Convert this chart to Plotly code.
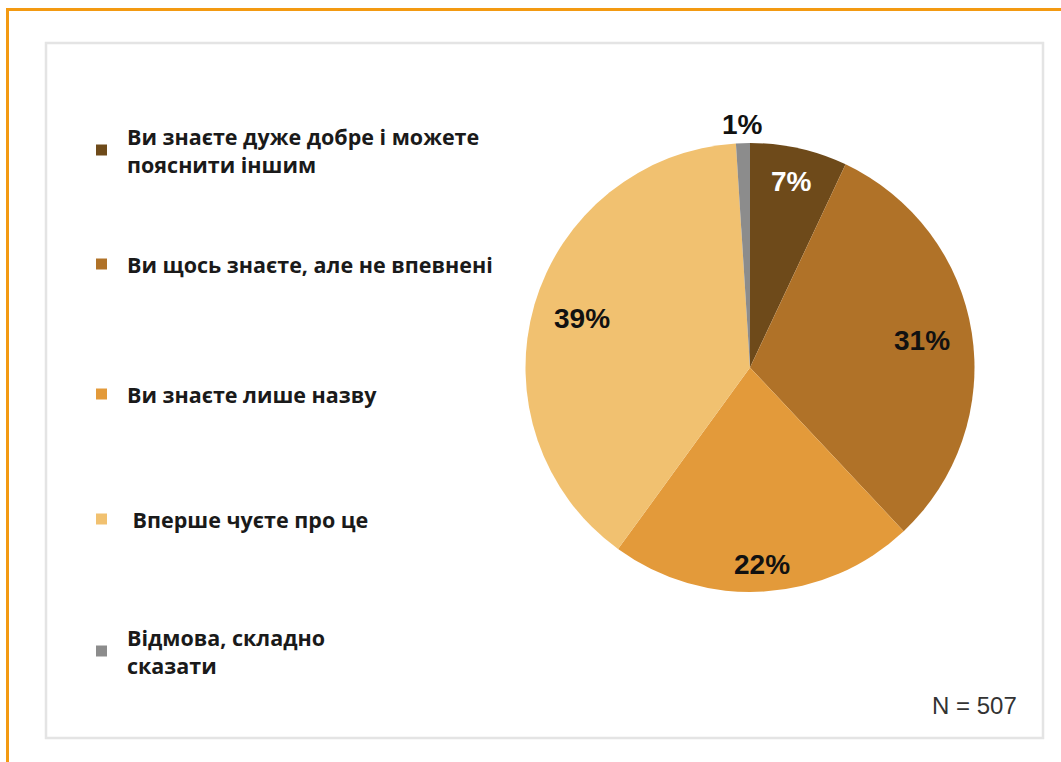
import math
import plotly.graph_objects as go

W, H = 1061, 762

labels = [
    "Ви знаєте дуже добре і можете<br>пояснити іншим",
    "Ви щось знаєте, але не впевнені",
    "Ви знаєте лише назву",
    "\u00a0Вперше чуєте про це",
    "Відмова, складно<br>сказати",
]
values = [7, 31, 22, 39, 1]
colors = ["#6e4a1a", "#b07228", "#e39a3a", "#f1c170", "#8c8c8c"]
text_colors = ["#ffffff", "#111111", "#111111", "#111111", "#111111"]
note = "N = 507"

# layout constants (positions only)
legend_y_px = [150, 264, 394, 519, 651]
label_radius = [0.85, 0.775, 0.88, 0.78, 1.085]


def px_x(x):
    return x / W


def px_y(y):
    return 1 - y / H


cx, cy, r = 750, 367.5, 224.5

fig = go.Figure()
fig.add_trace(go.Pie(
    labels=labels,
    values=values,
    sort=False,
    direction="clockwise",
    rotation=0,
    marker=dict(colors=colors, line=dict(width=0)),
    textinfo="none",
    domain=dict(x=[px_x(cx - r), px_x(cx + r)], y=[px_y(cy + r), px_y(cy - r)]),
    showlegend=False,
    hoverinfo="label+percent",
))

shapes = [
    dict(type="rect", xref="paper", yref="paper",
         x0=px_x(7.5), x1=px_x(W + 20), y0=px_y(H + 20), y1=px_y(9.5),
         line=dict(color="#f39a12", width=3), fillcolor="rgba(0,0,0,0)", layer="below"),
    dict(type="rect", xref="paper", yref="paper",
         x0=px_x(46), x1=px_x(1043), y0=px_y(738), y1=px_y(43),
         line=dict(color="#e4e4e4", width=2.5), fillcolor="#ffffff", layer="below"),
]

annotations = []

# percent labels placed from the slice mid-angles
total = float(sum(values))
cum = 0.0
for v, tc, rf in zip(values, text_colors, label_radius):
    mid = (cum + v / 2.0) / total * 2 * math.pi
    cum += v
    x = cx + rf * r * math.sin(mid)
    y = cy - rf * r * math.cos(mid)
    annotations.append(dict(
        text=f"{v}%", xref="paper", yref="paper", x=px_x(x), y=px_y(y),
        xanchor="center", yanchor="middle", showarrow=False,
        font=dict(family="Liberation Sans", size=28, color=tc, weight="bold"),
    ))

for lab, col, yp in zip(labels, colors, legend_y_px):
    shapes.append(dict(type="rect", xref="paper", yref="paper",
                       x0=px_x(96), x1=px_x(107), y0=px_y(yp + 5.5), y1=px_y(yp - 5.5),
                       line=dict(width=0), fillcolor=col))
    annotations.append(dict(
        text=lab, xref="paper", yref="paper", x=px_x(125), y=px_y(yp),
        xanchor="left", yanchor="middle", align="left", showarrow=False,
        font=dict(family="Open Sans", size=21.5, color="#1a1a1a", weight="bold"),
    ))

annotations.append(dict(
    text=note, xref="paper", yref="paper", x=px_x(1019), y=px_y(705),
    xanchor="right", yanchor="middle", showarrow=False,
    font=dict(family="Liberation Sans", size=24, color="#333333"),
))

fig.update_layout(
    width=W, height=H,
    margin=dict(l=0, r=0, t=0, b=0),
    paper_bgcolor="#ffffff",
    plot_bgcolor="#ffffff",
    shapes=shapes,
    annotations=annotations,
)

fig.write_html("out.html")
